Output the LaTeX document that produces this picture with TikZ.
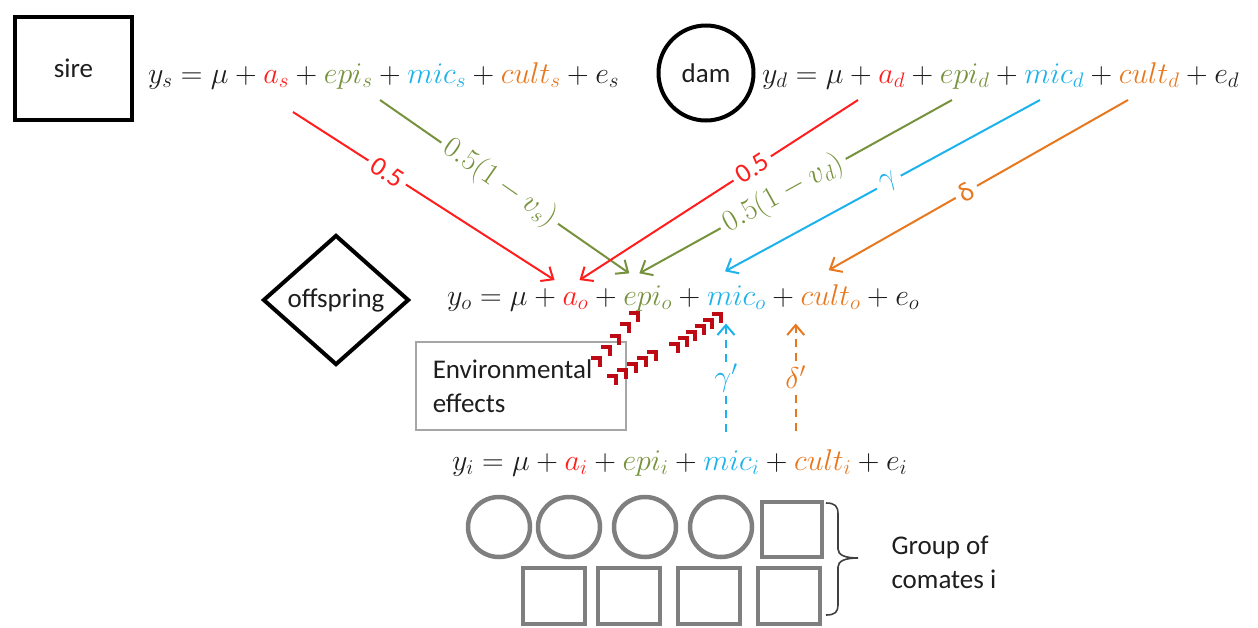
\RequirePackage{fix-cm}
\documentclass[tikz,border=0pt]{standalone}
\usepackage{fontspec}
\setmainfont{Carlito}
\usetikzlibrary{shapes.geometric,arrows.meta,calc}

\definecolor{cred}{HTML}{FF1E1E}
\definecolor{cgreen}{HTML}{76923C}
\definecolor{cblue}{HTML}{1CB2EC}
\definecolor{corange}{HTML}{E8781E}
\definecolor{cdark}{HTML}{1E1E1E}
\definecolor{cchev}{HTML}{BE0A14}
\definecolor{cboxgray}{HTML}{A6A6A6}
\definecolor{cmate}{HTML}{7F7F7F}

\newcommand\eqfont{\fontsize{30}{34}\selectfont}
\newcommand\txtfont{\fontsize{27}{34}\selectfont}

% one model equation, built term by term so that every term has a name
\newcommand{\modeleq}[3]{%
  \node[eqt] (#1y) at (#3) {$y_{#2} = \mu + {}$};
  \node[eqt,text=cred] (#1a) at (#1y.base east) {$a_{#2}$};
  \node[eqt] (#1p1) at (#1a.base east) {${}+{}$};
  \node[eqt,text=cgreen] (#1epi) at (#1p1.base east) {$epi_{#2}$};
  \node[eqt] (#1p2) at (#1epi.base east) {${}+{}$};
  \node[eqt,text=cblue] (#1mic) at (#1p2.base east) {$mic_{#2}$};
  \node[eqt] (#1p3) at (#1mic.base east) {${}+{}$};
  \node[eqt,text=corange] (#1cult) at (#1p3.base east) {$cult_{#2}$};
  \node[eqt] (#1e) at (#1cult.base east) {${}+e_{#2}$};
}

\begin{document}
\begin{tikzpicture}[x=1pt,y=-1pt,
  eqt/.style={inner sep=0pt, outer sep=0pt, anchor=base west, font=\eqfont, text=cdark},
  txt/.style={font=\txtfont, text=cdark},
  conn/.style={line width=2pt, -{Straight Barb[length=10pt,width=17pt]}},
  dconn/.style={line width=2pt, dash pattern=on 8pt off 6pt, -{Straight Barb[length=10pt,width=17pt]}},
  lbl/.style={sloped, fill=white, inner sep=5pt},
  thickbox/.style={draw=black, line width=4pt},
  mate/.style={draw=cmate, line width=4.5pt},
  chev/.style={draw=cchev, line width=4pt, line join=miter, line cap=butt},
  brace/.style={draw=cdark!85, line width=1.6pt}]
\useasboundingbox (0,0) rectangle (1258,627);

% individuals
\node[thickbox, minimum width=117pt, minimum height=103pt, txt] (sire) at (73.5,68.5) {sire};
\node[thickbox, circle, minimum size=95pt, txt] (dam) at (706,73) {dam};
\node[thickbox, diamond, minimum width=146pt, minimum height=130pt, inner sep=0pt, txt] (off) at (336,300) {offspring};

% model equations
\modeleq{s}{s}{148,83}
\modeleq{d}{d}{762,83}
\modeleq{o}{o}{447,305}
\modeleq{i}{i}{452,470}

% line starts under the parental equations
\coordinate (rs) at (293,112);
\coordinate (gs) at (380,100);
\coordinate (rd) at (858,100);
\coordinate (gd) at (952,100);
\coordinate (bd) at (1040,100);
\coordinate (od) at (1128,100);

% transmission from sire and dam
\draw[conn, cred] (rs) -- node[lbl, pos=.36, txt, text=cred]{0.5} ($(oa.north west)+(-8,-12)$);
\draw[conn, cgreen] (gs) -- node[lbl, pos=.48, font=\eqfont, text=cgreen]{$0.5(1-v_s)$} ($(oepi.north west)+(6,-12)$);
\draw[conn, cred] (rd) -- node[lbl, pos=.38, txt, text=cred]{0.5} ($(oa.north)+(4,-12)$);
\draw[conn, cgreen] (gd) -- node[lbl, pos=.54, font=\eqfont, text=cgreen]{$0.5(1-v_d)$} ($(oepi.north west)+(16,-12)$);
\draw[conn, cblue] (bd) -- node[lbl, pos=.48, font=\eqfont, text=cblue]{$\gamma$} ($(omic.north west)+(18,-14)$);
\draw[conn, corange] (od) -- node[lbl, pos=.54, txt, text=corange]{δ} ($(ocult.north west)+(28,-14)$);

% influence of the comates
\coordinate (gt) at ($(omic.south west)+(19,14)$);
\coordinate (gb) at ($(gt |- imic.north)+(0,-18)$);
\draw[dconn, cblue] (gb) -- node[fill=white, inner sep=2pt, font=\eqfont, text=cblue]{$\gamma'$} (gt);
\coordinate (dt) at ($(ocult.south west)+(-5,14)$);
\coordinate (db) at ($(dt |- icult.north)+(0,-18)$);
\draw[dconn, corange] (db) -- node[fill=white, inner sep=2pt, font=\eqfont, text=corange]{$\delta'$} (dt);

% environmental effects
\node[draw=cboxgray, line width=1.5pt, anchor=north west, minimum width=210pt, minimum height=88pt,
      text width=176pt, inner xsep=17pt, align=left, txt] (env) at (415,341) {Environmental\\effects};
\foreach \t in {0,...,4}{
  \coordinate (c) at ($(600,358)!\t/4!(638,313)$);
  \draw[chev] ($(c)+(-9,0)$) -- (c) -- ($(c)+(0,9)$);
}
\foreach \t in {0,...,4}{
  \coordinate (c) at ($(616,376)!\t/4!(656,352)$);
  \draw[chev] ($(c)+(-9,0)$) -- (c) -- ($(c)+(0,9)$);
}
\foreach \t in {0,...,5}{
  \coordinate (c) at ($(678,344)!\t/5!(721,314)$);
  \draw[chev] ($(c)+(-9,0)$) -- (c) -- ($(c)+(0,9)$);
}

% group of comates
\foreach \x in {499,569,645,721}{
  \draw[mate] (\x,527) ellipse [x radius=31, y radius=30];
}
\draw[mate] (762,502) rectangle (822,557);
\foreach \x in {523,598,678,758}{
  \draw[mate] (\x,568) rectangle ++(62,56);
}
\draw[brace] (826,503) .. controls (835,503) and (838,506) .. (838,514) -- (838,549)
  .. controls (838,555) and (845,558) .. (858,558)
  .. controls (845,558) and (838,561) .. (838,567) -- (838,605)
  .. controls (838,612) and (835,615) .. (826,615);
\node[txt, anchor=west, align=left] (grp) at (888,562) {Group of\\comates i};
\end{tikzpicture}
\end{document}
